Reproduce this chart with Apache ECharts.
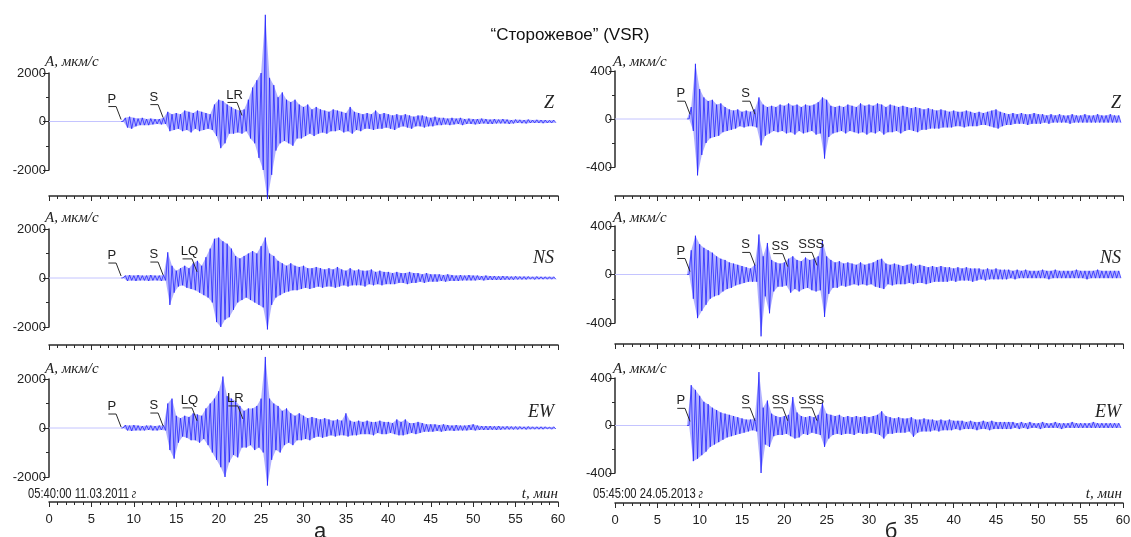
<!DOCTYPE html>
<html>
<head>
<meta charset="utf-8">
<script src="https://cdn.jsdelivr.net/npm/echarts@6/dist/echarts.min.js"></script>
<style>
  html, body { margin: 0; padding: 0; background: #fff; }
  #chart { width: 1131px; height: 537px; }
</style>
</head>
<body>
<div id="chart"></div>
<script>
// Velocity seismograms, station "Сторожевое" (VSR): envelope peaks (upper / lower)
// sampled every STEP minutes from the start of the record, µm/s.
const STEP = 0.5;

// ---- 11.03.2011, 05:40:00 ----
const leftZUp = [0,0,0,0,0,0,0,0,0,0,0,0,0,0,0,0,0,0,
  150,200,150,120,150,100,120,100,100,150,
  400,300,350,300,450,400,350,450,400,350,
  300,700,900,850,700,600,500,450,500,900,
  1400,1700,2000,4400,1800,1500,1000,1200,900,800,
  900,700,600,700,500,600,500,450,400,500,
  450,400,350,600,400,350,300,350,300,450,
  300,350,300,250,300,250,300,250,200,250,
  250,200,150,200,150,150,120,150,120,150,
  100,120,100,100,120,100,80,100,80,100,
  80,60,80,70,60,80,60,70,60,60,
  50,60];
const leftZLo = [0,0,0,0,0,0,0,0,0,0,0,0,0,0,0,0,0,0,
  -250,-300,-200,-150,-150,-150,-120,-100,-120,-100,
  -400,-350,-300,-400,-350,-450,-300,-400,-350,-300,
  -350,-600,-1100,-900,-500,-500,-450,-500,-400,-700,
  -900,-1500,-2000,-3200,-2200,-1200,-900,-800,-900,-1000,
  -700,-700,-600,-500,-600,-500,-450,-500,-400,-400,
  -350,-450,-400,-500,-350,-400,-300,-300,-350,-300,
  -300,-250,-300,-350,-250,-200,-250,-300,-200,-200,
  -250,-200,-200,-150,-150,-120,-150,-120,-100,-150,
  -100,-100,-120,-100,-80,-100,-100,-80,-80,-80,
  -100,-80,-60,-70,-80,-60,-60,-60,-70,-60,
  -60,-50];

const leftNSUp = [0,0,0,0,0,0,0,0,0,0,0,0,0,0,0,0,0,0,
  100,120,100,120,100,100,120,100,100,120,
  1050,500,300,400,500,400,600,700,500,850,
  1200,1600,1650,1500,1400,1200,900,800,900,1000,
  1100,1000,1300,1650,1000,900,700,600,500,600,
  500,450,500,400,400,450,400,350,400,350,
  450,350,300,400,300,350,300,300,350,250,
  300,250,250,200,250,200,200,250,200,200,
  150,200,150,150,150,120,150,120,100,120,
  100,120,100,100,80,100,80,80,70,80,
  70,60,70,60,60,60,50,60,50,50,
  50,50];
const leftNSLo = [0,0,0,0,0,0,0,0,0,0,0,0,0,0,0,0,0,0,
  -120,-100,-120,-100,-100,-120,-100,-100,-120,-100,
  -1100,-600,-350,-300,-400,-450,-500,-600,-700,-800,
  -1000,-1800,-2000,-1700,-1600,-1300,-1000,-900,-800,-900,
  -1000,-1100,-1200,-2100,-1100,-800,-700,-600,-550,-500,
  -500,-450,-400,-450,-400,-350,-400,-350,-350,-400,
  -350,-300,-350,-300,-300,-300,-350,-250,-300,-250,
  -300,-250,-250,-250,-200,-200,-250,-200,-200,-150,
  -200,-150,-150,-150,-120,-150,-120,-120,-120,-100,
  -100,-100,-100,-80,-100,-80,-80,-80,-80,-70,
  -70,-70,-60,-60,-60,-50,-60,-50,-50,-50,
  -50,-50];

const leftEWUp = [0,0,0,0,0,0,0,0,0,0,0,0,0,0,0,0,0,0,
  120,100,120,100,80,100,100,80,100,100,
  1000,1200,500,400,500,450,600,550,500,800,
  1000,1200,1500,2100,1300,1200,1100,900,700,800,
  800,900,1200,2900,1200,1000,900,700,800,600,
  500,600,500,400,450,400,350,400,350,300,
  350,300,600,300,250,300,250,300,250,250,
  300,250,250,200,350,250,350,200,200,250,
  200,150,150,150,120,150,120,100,120,100,
  100,120,150,100,80,80,80,70,80,60,
  70,60,60,60,50,60,50,50,50,50,
  40,50];
const leftEWLo = [0,0,0,0,0,0,0,0,0,0,0,0,0,0,0,0,0,0,
  -100,-120,-100,-100,-100,-80,-100,-100,-80,-100,
  -900,-1250,-600,-350,-400,-500,-500,-600,-450,-700,
  -1000,-1300,-1600,-2000,-1400,-1100,-1200,-800,-800,-700,
  -900,-800,-1000,-2350,-1300,-900,-1000,-700,-600,-700,
  -500,-500,-450,-500,-400,-350,-400,-350,-300,-350,
  -300,-300,-350,-300,-300,-250,-250,-250,-300,-200,
  -250,-250,-200,-250,-300,-300,-250,-200,-250,-200,
  -150,-150,-150,-120,-150,-120,-100,-120,-100,-100,
  -100,-80,-100,-80,-80,-80,-70,-80,-70,-60,
  -60,-60,-60,-50,-60,-50,-50,-50,-50,-40,
  -50,-40];

// ---- 24.05.2013, 05:45:00 ----
const rightZUp = [0,0,0,0,0,0,0,0,0,0,0,0,0,0,0,0,0,0,
  100,460,250,180,150,160,120,130,100,80,
  70,80,60,70,60,80,180,120,100,110,
  100,120,110,130,110,120,100,120,110,120,
  140,180,160,110,100,110,100,120,110,100,
  130,110,120,110,130,120,100,120,110,100,
  110,100,90,100,90,80,90,80,70,80,
  70,60,70,60,60,70,60,50,60,50,
  60,70,80,60,50,40,50,40,50,40,
  40,50,40,40,30,40,30,40,30,30,
  40,30,30,40,30,30,40,30,30,40,
  30,30];
const rightZLo = [0,0,0,0,0,0,0,0,0,0,0,0,0,0,0,0,0,0,
  -100,-470,-300,-200,-160,-150,-140,-110,-100,-90,
  -80,-60,-70,-60,-60,-70,-220,-140,-120,-100,
  -110,-100,-120,-110,-130,-100,-120,-110,-100,-130,
  -120,-330,-150,-120,-110,-100,-120,-100,-110,-120,
  -110,-130,-110,-120,-100,-130,-110,-110,-100,-120,
  -100,-90,-100,-110,-90,-90,-80,-80,-80,-70,
  -70,-70,-60,-60,-70,-60,-60,-60,-50,-50,
  -60,-70,-80,-60,-50,-50,-40,-40,-40,-50,
  -40,-40,-40,-30,-40,-30,-30,-30,-30,-40,
  -30,-30,-30,-30,-30,-30,-30,-30,-30,-30,
  -30,-30];

const rightNSUp = [0,0,0,0,0,0,0,0,0,0,0,0,0,0,0,0,0,0,
  200,320,250,220,200,180,150,130,120,100,
  90,80,70,60,50,80,330,150,260,120,
  100,90,100,130,150,120,110,140,120,130,
  150,280,150,120,100,110,90,100,90,80,
  100,80,90,100,120,130,90,80,90,80,
  70,80,90,70,80,70,60,70,60,70,
  60,60,50,60,50,60,50,50,50,40,
  50,40,50,40,40,40,30,40,30,40,
  30,30,30,40,30,30,40,30,30,30,
  30,40,30,30,30,30,40,30,30,30,
  30,30];
const rightNSLo = [0,0,0,0,0,0,0,0,0,0,0,0,0,0,0,0,0,0,
  -200,-360,-300,-250,-200,-180,-170,-140,-120,-110,
  -90,-80,-70,-60,-60,-60,-510,-180,-320,-140,
  -100,-100,-90,-150,-120,-140,-120,-110,-130,-140,
  -130,-350,-160,-110,-110,-90,-100,-90,-80,-90,
  -80,-90,-80,-100,-110,-120,-80,-90,-80,-80,
  -80,-70,-80,-70,-70,-80,-70,-60,-60,-60,
  -60,-50,-60,-50,-50,-50,-60,-50,-40,-50,
  -40,-40,-40,-40,-40,-30,-40,-30,-30,-30,
  -30,-30,-30,-30,-40,-30,-30,-30,-30,-30,
  -30,-30,-30,-40,-30,-30,-30,-30,-30,-30,
  -30,-30];

const rightEWUp = [0,0,0,0,0,0,0,0,0,0,0,0,0,0,0,0,0,0,
  340,300,250,200,180,150,130,110,100,90,
  80,70,60,50,50,60,450,150,210,100,
  80,70,80,90,240,110,80,70,80,70,
  90,190,100,90,80,90,70,80,70,80,
  70,80,70,80,90,120,80,70,60,70,
  60,60,70,50,50,60,50,50,40,50,
  40,50,40,40,40,30,40,30,30,40,
  30,40,30,30,30,30,30,20,30,20,
  30,20,20,30,20,20,30,20,20,20,
  30,20,20,20,20,30,20,20,20,20,
  20,20];
const rightEWLo = [0,0,0,0,0,0,0,0,0,0,0,0,0,0,0,0,0,0,
  -300,-280,-250,-220,-180,-160,-140,-120,-100,-90,
  -80,-70,-60,-50,-40,-50,-400,-160,-180,-90,
  -80,-80,-70,-90,-110,-100,-70,-80,-60,-70,
  -80,-180,-110,-80,-70,-80,-70,-70,-80,-60,
  -70,-70,-60,-70,-80,-110,-70,-70,-60,-60,
  -60,-50,-95,-60,-50,-50,-50,-40,-50,-40,
  -40,-40,-30,-40,-30,-30,-30,-40,-30,-30,
  -40,-30,-30,-30,-30,-30,-20,-30,-20,-30,
  -20,-20,-30,-20,-20,-20,-20,-30,-20,-20,
  -20,-20,-20,-20,-20,-20,-20,-20,-20,-20,
  -20,-20];

// Phase picks: [time, min; amplitude where the leader touches, µm/s; phase name]
const picksLeftZ   = [[8.5, 80, 'P'], [13.45, 160, 'S'], [22.75, 250, 'LR']];
const picksLeftNS  = [[8.5, 80, 'P'], [13.45, 120, 'S'], [17.45, 250, 'LQ']];
const picksLeftEW  = [[8.5, 40, 'P'], [13.45, 80, 'S'], [17.45, 290, 'LQ'], [22.85, 370, 'LR']];
const picksRightZ  = [[8.86, 40, 'P'], [16.53, 40, 'S']];
const picksRightNS = [[8.86, 25, 'P'], [16.53, 75, 'S'], [20.4, 65, 'SS'], [23.86, 75, 'SSS']];
const picksRightEW = [[8.86, 35, 'P'], [16.53, 40, 'S'], [20.4, 40, 'SS'], [23.86, 40, 'SSS']];

const timeTicks = { min: 0, max: 60, interval: 5 };
const leftAmp  = { min: -2000, max: 2000, interval: 2000 };
const rightAmp = { min: -400, max: 400, interval: 400 };

const SANS = "'Liberation Sans', Arial, sans-serif";
const SERIF = "'Liberation Serif', 'Times New Roman', serif";
const INK = '#2a2a2a';
const TRACE = '#1a1aff';
const BAND = 'rgba(40, 40, 255, 0.36)';

// Panel frames: [left, top, width, height]; xOff = distance of the time axis below the frame
const panels = [
  { grid: [49, 73, 509, 97], xOff: 26, amp: leftAmp, up: leftZUp, lo: leftZLo, picks: picksLeftZ, labels: false },
  { grid: [49, 229, 509, 98], xOff: 18, amp: leftAmp, up: leftNSUp, lo: leftNSLo, picks: picksLeftNS, labels: false },
  { grid: [49, 379, 509, 98], xOff: 25, amp: leftAmp, up: leftEWUp, lo: leftEWLo, picks: picksLeftEW, labels: true },
  { grid: [615, 71, 508, 96], xOff: 29, amp: rightAmp, up: rightZUp, lo: rightZLo, picks: picksRightZ, labels: false },
  { grid: [615, 226, 508, 97], xOff: 21, amp: rightAmp, up: rightNSUp, lo: rightNSLo, picks: picksRightNS, labels: false },
  { grid: [615, 378, 508, 95], xOff: 30, amp: rightAmp, up: rightEWUp, lo: rightEWLo, picks: picksRightEW, labels: true }
];

function firstArrival(up, lo) {
  let first = 0;
  while (first < up.length && up[first] === 0 && lo[first] === 0) first++;
  return Math.max(first - 1, 0);
}

// Zig-zag between upper and lower peaks; flat part before the first arrival kept apart.
function buildTrace(up, lo) {
  const start = firstArrival(up, lo);
  const quiet = [[0, 0], [start * STEP, 0]];
  const wave = [];
  for (let i = start; i < up.length; i++) {
    wave.push([i * STEP, up[i]]);
    wave.push([i * STEP + STEP / 2, lo[i]]);
  }
  return { quiet, wave };
}

const grids = [], xAxes = [], yAxes = [], series = [];
panels.forEach((p, k) => {
  grids.push({ left: p.grid[0], top: p.grid[1], width: p.grid[2], height: p.grid[3],
    containLabel: false, outerBoundsMode: 'none' });
  xAxes.push({
    type: 'value', gridIndex: k, min: timeTicks.min, max: timeTicks.max, interval: timeTicks.interval,
    position: 'bottom', offset: p.xOff,
    axisLine: { show: true, onZero: false, lineStyle: { color: INK, width: 1.5 } },
    axisTick: { show: true, inside: false, length: 5, lineStyle: { color: INK, width: 1 } },
    minorTick: { show: true, splitNumber: 5, length: 3, lineStyle: { color: INK, width: 1 } },
    splitLine: { show: false }, minorSplitLine: { show: false },
    axisLabel: { show: p.labels, margin: 11, fontFamily: SANS, fontSize: 13, color: '#222',
      formatter: v => String(v) }
  });
  yAxes.push({
    type: 'value', gridIndex: k, min: p.amp.min, max: p.amp.max, interval: p.amp.interval,
    axisLine: { show: true, onZero: false, lineStyle: { color: INK, width: 1.5 } },
    axisTick: { show: true, length: 6, lineStyle: { color: INK, width: 1 } },
    minorTick: { show: true, splitNumber: 2, length: 3, lineStyle: { color: INK, width: 1 } },
    splitLine: { show: false }, minorSplitLine: { show: false },
    axisLabel: { margin: 3, fontFamily: SANS, fontSize: 13, color: '#222', formatter: v => String(v) }
  });
  const tr = buildTrace(p.up, p.lo);
  const up = p.up, lo = p.lo, start = firstArrival(up, lo);
  // dense part of the record: band between upper and lower peaks
  series.push({
    type: 'custom', xAxisIndex: k, yAxisIndex: k, clip: false, silent: true, animation: false, z: 2,
    data: [[0, 0]],
    renderItem(params, api) {
      const top = [], bot = [];
      for (let i = start; i < up.length; i++) {
        top.push(api.coord([i * STEP, up[i]]));
        bot.push(api.coord([i * STEP + STEP / 2, lo[i]]));
      }
      return { type: 'polygon', shape: { points: top.concat(bot.reverse()) },
        style: { fill: BAND, stroke: null } };
    }
  });
  series.push({
    type: 'line', xAxisIndex: k, yAxisIndex: k, data: tr.quiet, symbol: 'none',
    lineStyle: { color: '#c4c4ff', width: 1 }, silent: true, animation: false, z: 2
  });
  series.push({
    type: 'line', xAxisIndex: k, yAxisIndex: k, data: tr.wave, symbol: 'none', clip: false,
    lineStyle: { color: TRACE, width: 0.8, opacity: 0.9 }, silent: true, animation: false, z: 3
  });
  const picks = p.picks;
  series.push({
    type: 'custom', xAxisIndex: k, yAxisIndex: k, clip: false, silent: true, animation: false, z: 5,
    data: picks.map(d => [d[0], d[1]]),
    encode: { x: 0, y: 1 },
    renderItem(params, api) {
      const pt = api.coord([api.value(0), api.value(1)]);
      const name = picks[params.dataIndex][2];
      const sx = pt[0] - 5, sy = pt[1] - 13;
      const w = 7 * name.length;
      const cx = sx - 6 + w * 0.25;
      return {
        type: 'group',
        children: [
          { type: 'polyline', shape: { points: [[cx - w / 2, sy], [sx, sy], [pt[0], pt[1]]] },
            style: { stroke: INK, lineWidth: 1, fill: null } },
          { type: 'text', style: { text: name, x: cx, y: sy - 1, align: 'center', verticalAlign: 'bottom',
            fontSize: 13, fontFamily: SANS, fill: '#222' } }
        ]
      };
    }
  });
});

function txt(text, x, y, opts) {
  return { type: 'text', silent: true, style: Object.assign({ text, x, y, fill: '#222',
    verticalAlign: 'middle' }, opts) };
}
function stamp(text, x, y) {
  return { type: 'text', silent: true, x, y, scaleX: 0.8, originX: 0, style: { x: 0, y: 0,
    verticalAlign: 'middle', text: '{d|' + text + '} {g|г}',
    rich: { d: { fontSize: 14, fontFamily: SANS, fill: '#222' },
            g: { fontSize: 14, fontStyle: 'italic', fontFamily: SERIF, fill: '#222' } } } };
}
const ampName = 'A, мкм/с';
const italic = (size, align) => ({ fontSize: size, fontStyle: 'italic', fontFamily: SERIF, align: align || 'left' });
const graphics = [
  txt('“Сторожевое” (VSR)', 570, 35, { align: 'center', fontSize: 17, fontFamily: SANS, fill: '#111' }),
  txt(ampName, 45, 62, italic(15)),
  txt(ampName, 45, 218, italic(15)),
  txt(ampName, 45, 369, italic(15)),
  txt(ampName, 613, 62, italic(15)),
  txt(ampName, 613, 218, italic(15)),
  txt(ampName, 613, 369, italic(15)),
  txt('Z', 554, 103, italic(18, 'right')),
  txt('NS', 554, 258, italic(18, 'right')),
  txt('EW', 554, 412, italic(18, 'right')),
  txt('Z', 1121, 103, italic(18, 'right')),
  txt('NS', 1121, 258, italic(18, 'right')),
  txt('EW', 1121, 412, italic(18, 'right')),
  txt('t, мин', 558, 494, italic(15, 'right')),
  txt('t, мин', 1122, 494, italic(15, 'right')),
  stamp('05:40:00 11.03.2011', 28, 494),
  stamp('05:45:00 24.05.2013', 593, 494),
  txt('а', 320, 543, { align: 'center', verticalAlign: 'bottom', fontSize: 22, fontFamily: SANS }),
  txt('б', 891, 543, { align: 'center', verticalAlign: 'bottom', fontSize: 22, fontFamily: SANS })
];

const chart = echarts.init(document.getElementById('chart'), null, { renderer: 'canvas' });
chart.setOption({
  backgroundColor: '#ffffff',
  animation: false,
  grid: grids,
  xAxis: xAxes,
  yAxis: yAxes,
  series: series,
  graphic: graphics
});
</script>
</body>
</html>
